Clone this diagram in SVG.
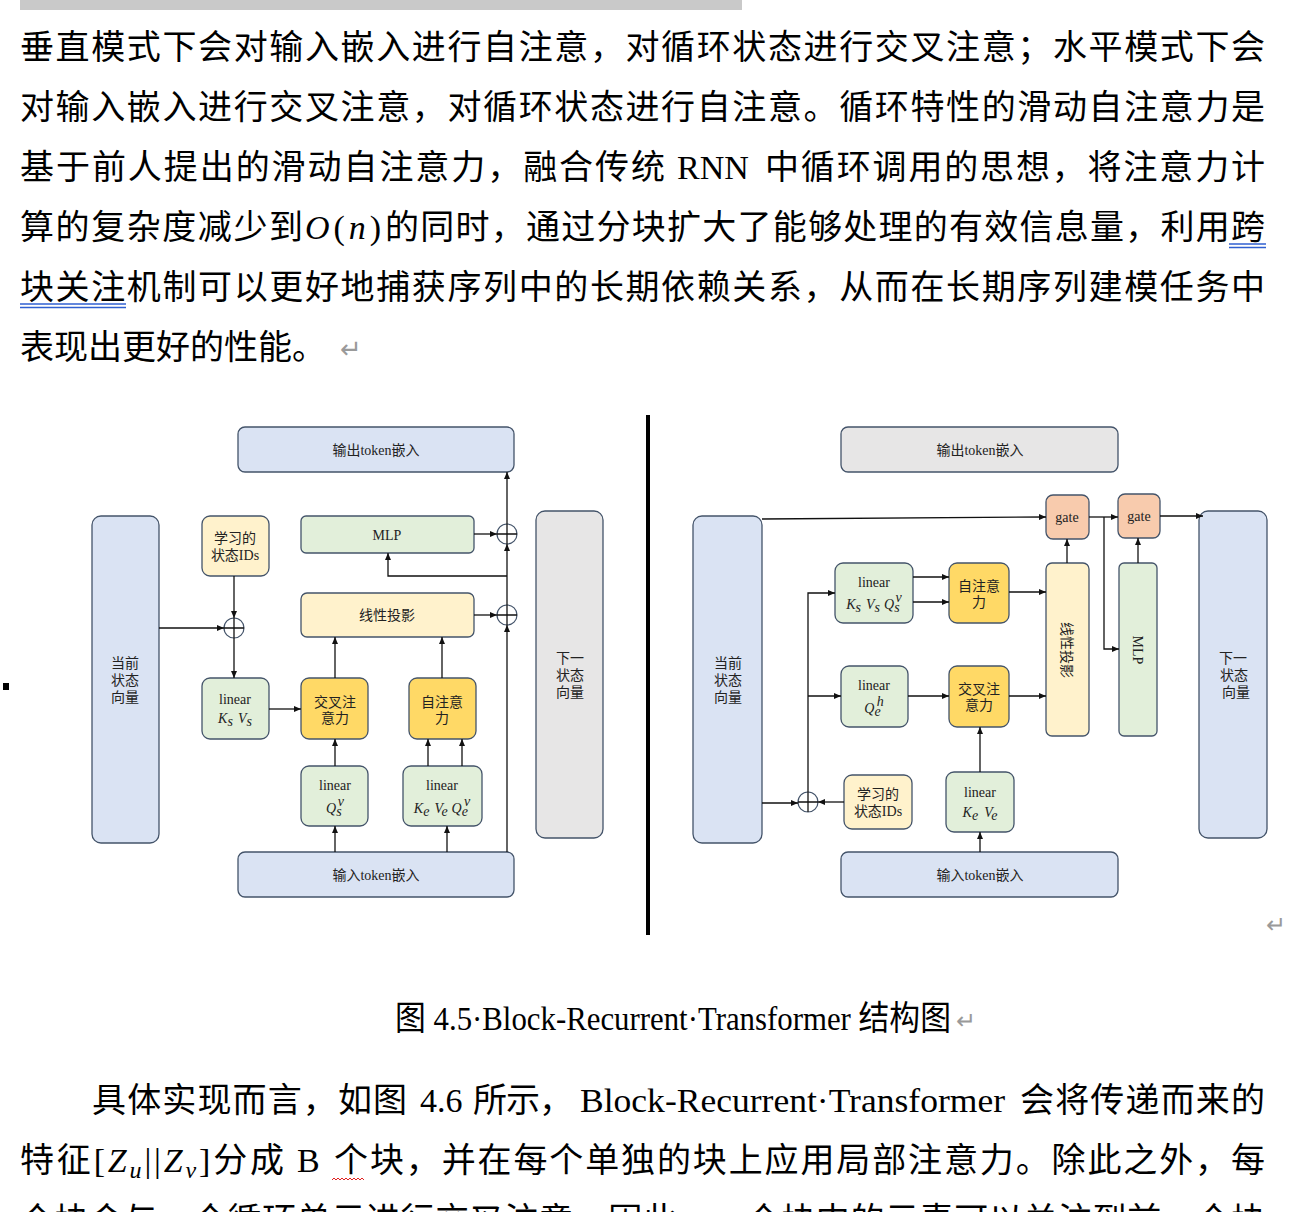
<svg xmlns="http://www.w3.org/2000/svg" width="1290" height="1212" viewBox="0 0 1290 1212">
<defs>
<marker id="ah" markerWidth="7" markerHeight="6" refX="7" refY="3" orient="auto" markerUnits="userSpaceOnUse"><path d="M0,0 L7,3 L0,6z" fill="#111"/></marker>
<style>
.body{font-family:"Liberation Serif","Noto Sans CJK SC",serif;font-size:34px;fill:#000}
.mi{font-style:italic}
.box{stroke:#44546a;stroke-width:1.3}
.blue{fill:#dae3f3}.gray{fill:#e7e6e6}.green{fill:#e2efda}.yel{fill:#fff2cc}.gold{fill:#ffd966}.peach{fill:#f8cbad}
.lbl{font-family:"Liberation Serif","Noto Sans CJK SC",serif;font-size:14px;fill:#222;text-anchor:middle}
.m{font-family:"Liberation Serif",serif;font-style:italic;font-size:14px}
.c{stroke:#111;stroke-width:1.3;fill:none}
.ca{stroke:#111;stroke-width:1.3;fill:none;marker-end:url(#ah)}
.plus{fill:#fff;stroke:#44546a;stroke-width:1.2}
.ret{font-family:"Liberation Sans",sans-serif;fill:#9a9a9a}
</style>
</defs>
<rect width="1290" height="1212" fill="#fff"/>

<!-- top paragraph -->
<rect x="20" y="0" width="722" height="10" fill="#c9c9c9"/>
<text class="body" x="20" y="59" textLength="1245" lengthAdjust="spacing">垂直模式下会对输入嵌入进行自注意，对循环状态进行交叉注意；水平模式下会</text>
<text class="body" x="20" y="119" textLength="1245" lengthAdjust="spacing">对输入嵌入进行交叉注意，对循环状态进行自注意。循环特性的滑动自注意力是</text>
<text class="body" x="20" y="179" textLength="645" lengthAdjust="spacing">基于前人提出的滑动自注意力，融合传统</text>
<text class="body" x="677" y="179">RNN</text>
<text class="body" x="765" y="179" textLength="500" lengthAdjust="spacing">中循环调用的思想，将注意力计</text>
<text class="body" x="20" y="239" textLength="283" lengthAdjust="spacing">算的复杂度减少到</text>
<text class="body" x="305" y="239" font-size="36" textLength="76" lengthAdjust="spacing"><tspan class="mi">O</tspan>(<tspan class="mi">n</tspan>)</text>
<text class="body" x="385" y="239" textLength="880" lengthAdjust="spacing">的同时，通过分块扩大了能够处理的有效信息量，利用跨</text>
<text class="body" x="20" y="299" textLength="1245" lengthAdjust="spacing">块关注机制可以更好地捕获序列中的长期依赖关系，从而在长期序列建模任务中</text>
<text class="body" x="20" y="359">表现出更好的性能。</text>
<text class="ret" x="340" y="358" font-size="26">↵</text>
<g stroke="#2f5fd0" stroke-width="1.3">
<line x1="1229" y1="244" x2="1266" y2="244"/><line x1="1229" y1="247.5" x2="1266" y2="247.5"/>
<line x1="20" y1="304" x2="126" y2="304"/><line x1="20" y1="307.5" x2="126" y2="307.5"/>
</g>
<rect x="3" y="683" width="6" height="7" fill="#000"/>

<!-- divider -->
<line x1="648" y1="415" x2="648" y2="935" stroke="#000" stroke-width="4"/>

<!-- LEFT DIAGRAM nodes -->
<g id="L-out"><rect class="box blue" x="238" y="427" width="276" height="45" rx="7"/><text class="lbl" x="376" y="455" font-size="13">输出token嵌入</text></g>
<g id="L-cur"><rect class="box blue" x="92" y="516" width="67" height="327" rx="9"/><text class="lbl" x="125" y="668">当前</text><text class="lbl" x="125" y="685">状态</text><text class="lbl" x="125" y="702">向量</text></g>
<g id="L-ids"><rect class="box yel" x="202" y="516" width="67" height="60" rx="8"/><text class="lbl" x="235" y="543">学习的</text><text class="lbl" x="235" y="560">状态IDs</text></g>
<g id="L-mlp"><rect class="box green" x="301" y="516" width="173" height="37" rx="5"/><text class="lbl" x="387" y="540" font-size="13">MLP</text></g>
<g id="L-proj"><rect class="box yel" x="301" y="593" width="173" height="44" rx="6"/><text class="lbl" x="387" y="620">线性投影</text></g>
<g id="L-next"><rect class="box gray" x="536" y="511" width="67" height="327" rx="9"/><text class="lbl" x="570" y="663">下一</text><text class="lbl" x="570" y="680">状态</text><text class="lbl" x="570" y="697">向量</text></g>
<g id="L-linKV"><rect class="box green" x="202" y="678" width="67" height="61" rx="8"/><text class="lbl" x="235" y="704">linear</text><text class="lbl" x="235" y="723"><tspan class="m">K</tspan><tspan font-size="9" class="m" dy="3">s</tspan><tspan dx="5" dy="-3" class="m">V</tspan><tspan font-size="9" class="m" dy="3">s</tspan></text></g>
<g id="L-cross"><rect class="box gold" x="301" y="678" width="67" height="61" rx="8"/><text class="lbl" x="335" y="707">交叉注</text><text class="lbl" x="335" y="723">意力</text></g>
<g id="L-self"><rect class="box gold" x="409" y="678" width="67" height="61" rx="8"/><text class="lbl" x="442" y="707">自注意</text><text class="lbl" x="442" y="723">力</text></g>
<g id="L-linQ"><rect class="box green" x="301" y="766" width="67" height="60" rx="8"/><text class="lbl" x="335" y="790">linear</text><text class="lbl" x="335" y="813"><tspan class="m">Q</tspan><tspan font-size="9" class="m" dy="3">s</tspan><tspan font-size="9" class="m" dx="-4" dy="-10">v</tspan></text></g>
<g id="L-linKVQ"><rect class="box green" x="403" y="766" width="79" height="60" rx="8"/><text class="lbl" x="442" y="790">linear</text><text class="lbl" x="442" y="813"><tspan class="m">K</tspan><tspan font-size="9" class="m" dy="3">e</tspan><tspan dx="5" dy="-3" class="m">V</tspan><tspan font-size="9" class="m" dy="3">e</tspan><tspan dx="4" dy="-3" class="m">Q</tspan><tspan font-size="9" class="m" dy="3">e</tspan><tspan font-size="9" class="m" dx="-4" dy="-10">v</tspan></text></g>
<g id="L-in"><rect class="box blue" x="238" y="852" width="276" height="45" rx="7"/><text class="lbl" x="376" y="880" font-size="13">输入token嵌入</text></g>
<g id="L-p1"><circle class="plus" cx="234" cy="628" r="10"/><path class="c" d="M224,628H244M234,618V638"/></g>
<g id="L-p2"><circle class="plus" cx="507" cy="534" r="10"/><path class="c" d="M497,534H517M507,524V544"/></g>
<g id="L-p3"><circle class="plus" cx="507" cy="615" r="10"/><path class="c" d="M497,615H517M507,605V625"/></g>

<!-- LEFT connectors -->
<g id="L-connectors">
<path class="ca" d="M159,628H224"/>
<path class="ca" d="M234,576V618"/>
<path class="ca" d="M234,638V678"/>
<path class="ca" d="M269,709H301"/>
<path class="ca" d="M335,766V739"/>
<path class="ca" d="M335,678V637"/>
<path class="ca" d="M442,678V637"/>
<path class="ca" d="M428,766V739"/>
<path class="ca" d="M462,766V739"/>
<path class="ca" d="M335,852V826"/>
<path class="ca" d="M447,852V826"/>
<path class="ca" d="M507,852V625"/>
<path class="ca" d="M507,605V544"/>
<path class="ca" d="M507,524V472"/>
<path class="ca" d="M474,615H497"/>
<path class="ca" d="M474,534H497"/>
<path class="ca" d="M507,576H388V553"/>
</g>

<!-- RIGHT DIAGRAM nodes -->
<g id="R-out"><rect class="box gray" x="841" y="427" width="277" height="45" rx="7"/><text class="lbl" x="980" y="455" font-size="13">输出token嵌入</text></g>
<g id="R-cur"><rect class="box blue" x="693" y="516" width="69" height="327" rx="9"/><text class="lbl" x="728" y="668">当前</text><text class="lbl" x="728" y="685">状态</text><text class="lbl" x="728" y="702">向量</text></g>
<g id="R-gate1"><rect class="box peach" x="1046" y="495" width="43" height="44" rx="7"/><text class="lbl" x="1067" y="522" font-size="14">gate</text></g>
<g id="R-gate2"><rect class="box peach" x="1118" y="494" width="42" height="44" rx="7"/><text class="lbl" x="1139" y="521" font-size="14">gate</text></g>
<g id="R-next"><rect class="box blue" x="1199" y="511" width="68" height="327" rx="9"/><text class="lbl" x="1233" y="663">下一</text><text class="lbl" x="1234" y="680">状态</text><text class="lbl" x="1236" y="697">向量</text></g>
<g id="R-proj"><rect class="box yel" x="1046" y="563" width="43" height="173" rx="6"/><text class="lbl" transform="translate(1062,650) rotate(90)" y="0">线性投影</text></g>
<g id="R-mlp"><rect class="box green" x="1119" y="563" width="38" height="173" rx="5"/><text class="lbl" transform="translate(1133,650) rotate(90)" font-size="13">MLP</text></g>
<g id="R-linKVQ"><rect class="box green" x="835" y="563" width="78" height="60" rx="8"/><text class="lbl" x="874" y="587">linear</text><text class="lbl" x="874" y="609"><tspan class="m">K</tspan><tspan font-size="9" class="m" dy="3">s</tspan><tspan dx="5" dy="-3" class="m">V</tspan><tspan font-size="9" class="m" dy="3">s</tspan><tspan dx="4" dy="-3" class="m">Q</tspan><tspan font-size="9" class="m" dy="3">s</tspan><tspan font-size="9" class="m" dx="-4" dy="-10">v</tspan></text></g>
<g id="R-self"><rect class="box gold" x="949" y="563" width="60" height="60" rx="8"/><text class="lbl" x="979" y="591">自注意</text><text class="lbl" x="979" y="607">力</text></g>
<g id="R-linQ"><rect class="box green" x="841" y="666" width="67" height="61" rx="8"/><text class="lbl" x="874" y="690">linear</text><text class="lbl" x="874" y="713"><tspan class="m">Q</tspan><tspan font-size="9" class="m" dy="3">e</tspan><tspan font-size="9" class="m" dx="-4" dy="-10">h</tspan></text></g>
<g id="R-cross"><rect class="box gold" x="949" y="666" width="60" height="61" rx="8"/><text class="lbl" x="979" y="694">交叉注</text><text class="lbl" x="979" y="710">意力</text></g>
<g id="R-ids"><rect class="box yel" x="844" y="775" width="68" height="54" rx="8"/><text class="lbl" x="878" y="799">学习的</text><text class="lbl" x="878" y="816">状态IDs</text></g>
<g id="R-linKV"><rect class="box green" x="946" y="772" width="68" height="60" rx="8"/><text class="lbl" x="980" y="797">linear</text><text class="lbl" x="980" y="817"><tspan class="m">K</tspan><tspan font-size="9" class="m" dy="3">e</tspan><tspan dx="6" dy="-3" class="m">V</tspan><tspan font-size="9" class="m" dy="3">e</tspan></text></g>
<g id="R-in"><rect class="box blue" x="841" y="852" width="277" height="45" rx="7"/><text class="lbl" x="980" y="880" font-size="13">输入token嵌入</text></g>
<g id="R-p1"><circle class="plus" cx="808" cy="802" r="10"/><path class="c" d="M798,802H818M808,792V812"/></g>

<!-- RIGHT connectors -->
<g id="R-connectors">
<path class="ca" d="M762,519L1046,517"/>
<path class="ca" d="M1089,517H1118"/>
<path class="ca" d="M1104,517V649H1119"/>
<path class="ca" d="M1160,516H1203"/>
<path class="ca" d="M1067,563V539"/>
<path class="ca" d="M1138,563V538"/>
<path class="ca" d="M913,577H949"/>
<path class="ca" d="M913,602H949"/>
<path class="ca" d="M1009,592H1046"/>
<path class="ca" d="M908,696H949"/>
<path class="ca" d="M1009,696H1046"/>
<path class="ca" d="M808,792V593H835"/>
<path class="ca" d="M808,696H841"/>
<path class="ca" d="M762,803H798"/>
<path class="ca" d="M844,802H818"/>
<path class="ca" d="M980,772V727"/>
<path class="ca" d="M980,852V832"/>
</g>
<text class="ret" x="1266" y="933" font-size="24">↵</text>

<!-- caption -->
<text class="body" x="395" y="1030" font-size="31" textLength="556" lengthAdjust="spacingAndGlyphs">图 4.5·Block-Recurrent·Transformer 结构图</text>
<text class="ret" x="956" y="1029" font-size="24">↵</text>

<!-- bottom paragraph -->
<text class="body" x="92" y="1112" textLength="315" lengthAdjust="spacing">具体实现而言，如图</text>
<text class="body" x="420" y="1112">4.6</text>
<text class="body" x="473" y="1112" textLength="100" lengthAdjust="spacing">所示，</text>
<text class="body" x="580" y="1112" textLength="425" lengthAdjust="spacingAndGlyphs">Block-Recurrent·Transformer</text>
<text class="body" x="1020" y="1112" textLength="245" lengthAdjust="spacing">会将传递而来的</text>
<text class="body" x="20" y="1172" textLength="264" lengthAdjust="spacing">特征[<tspan class="mi">Z</tspan><tspan class="mi" font-size="24" dy="6">u</tspan><tspan dy="-6">||</tspan><tspan class="mi">Z</tspan><tspan class="mi" font-size="24" dy="6">v</tspan><tspan dy="-6">]分成</tspan></text>
<text class="body" x="297" y="1172">B</text>
<text class="body" x="334" y="1172" textLength="931" lengthAdjust="spacing">个块，并在每个单独的块上应用局部注意力。除此之外，每</text>
<path d="M332,1180 l2,-2 l2,2 l2,-2 l2,2 l2,-2 l2,2 l2,-2 l2,2 l2,-2 l2,2 l2,-2 l2,2 l2,-2 l2,2 l2,-2 l2,2" stroke="#e02020" stroke-width="1" fill="none"/>
<text class="body" x="20" y="1232" textLength="1245" lengthAdjust="spacing">个块会与一个循环单元进行交叉注意，因此，一个块中的元素可以关注到前一个块</text>
</svg>
